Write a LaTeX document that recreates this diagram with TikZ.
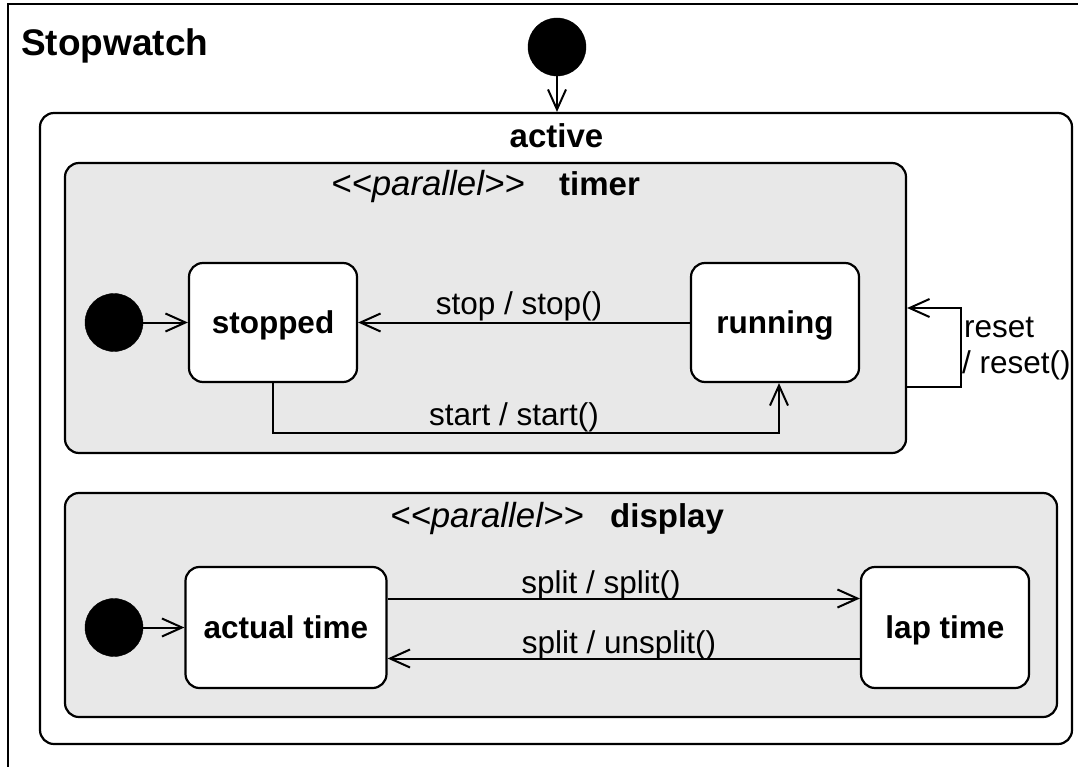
\documentclass[tikz,border=0pt]{standalone}
\usepackage{fontspec}
\setmainfont{Liberation Sans}
\usetikzlibrary{arrows.meta}
\definecolor{regiongray}{RGB}{232,232,232}
\begin{document}
\begin{tikzpicture}[x=1bp,y=-1bp,
  box/.style={draw=black, line width=2.2bp, rounded corners=14bp, inner sep=0pt},
  region/.style={box, fill=regiongray},
  statebox/.style={box, fill=white, font=\fontsize{31.5bp}{36bp}\selectfont\bfseries, text height=22.5bp, text depth=0pt},
  initdot/.style={circle, fill=black, draw=black, minimum size=58bp, inner sep=0pt},
  trans/.style={draw=black, line width=2bp, -{Straight Barb[length=20bp,width=18bp,line width=2bp]}},
  lbl/.style={font=\fontsize{31.5bp}{36bp}\selectfont, inner sep=0pt, anchor=base},
  ttl/.style={font=\fontsize{33bp}{38bp}\selectfont\bfseries, inner sep=0pt, anchor=base west},
  ster/.style={font=\fontsize{34.8bp}{40bp}\selectfont\itshape, inner sep=0pt, anchor=base west},
]
\useasboundingbox (0,0) rectangle (1078,767);
\fill[white] (0,0) rectangle (1078,767);
% outer state frame (cropped at right and bottom)
\draw[line width=2.2bp] (8,772) -- (8,4) -- (1082,4);
\node[font=\fontsize{37bp}{42bp}\selectfont\bfseries, inner sep=0pt, anchor=base west] (swlabel) at (21,56) {Stopwatch};
\node[initdot] (init0) at (557,47) {};
% active
\node[box, fill=white, minimum width=1032bp, minimum height=631bp] (active) at (556,428.5) {};
\node[ttl, anchor=base] (activelbl) at (556.5,147) {active};
\draw[trans] (init0) -- (init0 |- active.north);
% regions
\node[region, minimum width=841bp, minimum height=290bp] (timer) at (485.5,308) {};
\node[region, minimum width=992bp, minimum height=224bp] (display) at (561,605) {};
\node[ster] (tster) at (331,195) {<\kern0pt<parallel>\kern0pt>};
\node[ttl] (ttimer) at (559,195) {timer};
\node[ster] (dster) at (390,527) {<\kern0pt<parallel>\kern0pt>};
\node[ttl] (tdisplay) at (610,527) {display};
% states
\node[statebox, minimum width=168bp, minimum height=119bp] (stopped) at (273,322.5) {stopped};
\node[statebox, minimum width=168bp, minimum height=119bp] (running) at (775,322.5) {running};
\node[statebox, minimum width=201bp, minimum height=121bp] (actual) at (286,627.5) {actual time};
\node[statebox, minimum width=168bp, minimum height=121bp] (lap) at (945,627.5) {lap time};
\node[initdot] (init1) at (114,322.5) {};
\node[initdot] (init2) at (114,627.5) {};
% transitions
\draw[trans] (init1) -- (stopped);
\draw[trans] (init2) -- (actual);
\draw[trans] (running) -- (stopped);
\draw[trans] (stopped.south) -- ++(0,50) -| ([xshift=4bp]running.south);
\draw[trans] ([yshift=-79bp]timer.east) -- ++(54,0) |- (timer.east);
\draw[trans] ([yshift=29bp]actual.east) -- ([yshift=29bp]lap.west);
\draw[trans] ([yshift=-31bp]lap.west) -- ([yshift=-31bp]actual.east);
% labels
\node[lbl] (lstop) at (519,314) {stop / stop()};
\node[lbl] (lstart) at (514,425) {start / start()};
\node[lbl] (lsplit) at (601,593) {split / split()};
\node[lbl] (lunsplit) at (619,653) {split / unsplit()};
\node[lbl, anchor=base west] (lreset1) at (964,337) {reset};
\node[lbl, anchor=base west] (lreset2) at (962,373) {/ reset()};
\end{tikzpicture}
\end{document}
